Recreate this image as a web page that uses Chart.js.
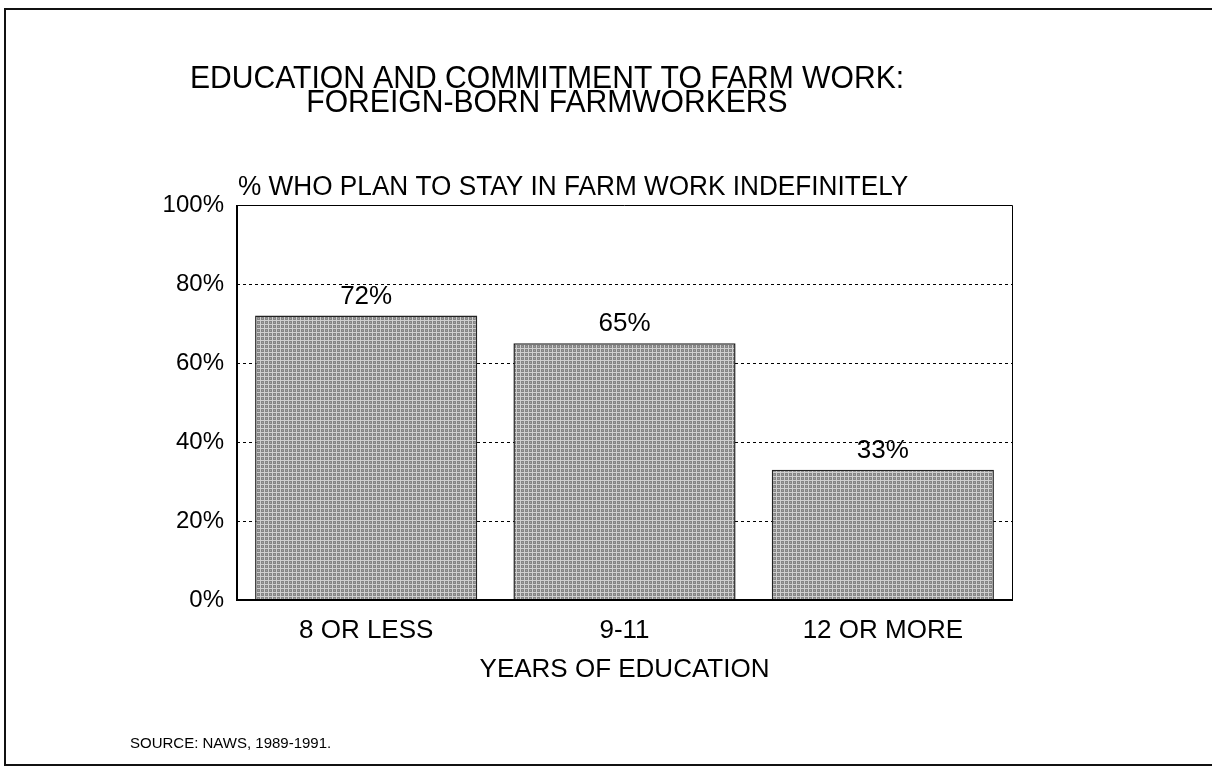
<!DOCTYPE html>
<html>
<head>
<meta charset="utf-8">
<script src="https://cdn.jsdelivr.net/npm/chart.js@4.4.1/dist/chart.umd.min.js"></script>
<style>
    html, body { margin: 0; padding: 0; background: #fff; }
    #wrap { width: 1212px; height: 775px; position: relative; }
</style>
</head>
<body>
<div id="wrap"><canvas id="eduChart"></canvas></div>
<script>
// data
const categories = ['8 OR LESS', '9-11', '12 OR MORE'];
const stayValues = [72, 65, 33];
const yTicks = [0, 20, 40, 60, 80, 100];

const titleLines = ['EDUCATION AND COMMITMENT TO FARM WORK:', 'FOREIGN-BORN FARMWORKERS'];
const subTitle = '% WHO PLAN TO STAY IN FARM WORK INDEFINITELY';
const xTitle = 'YEARS OF EDUCATION';
const sourceText = 'SOURCE: NAWS, 1989-1991.';

const FONT = '"Liberation Sans", Arial, sans-serif';

// stippled grey fill like the scanned bars
function makeStipple() {
    const c = document.createElement('canvas');
    c.width = 4;
    c.height = 4;
    const g = c.getContext('2d');
    g.fillStyle = '#858585';
    g.fillRect(0, 0, 4, 4);
    g.fillStyle = '#cfcfcf';
    g.fillRect(0, 0, 4, 1);
    g.fillRect(0, 0, 1, 4);
    g.fillStyle = '#a2a2a2';
    g.fillRect(2, 2, 1, 1);
    return g.createPattern(c, 'repeat');
}

// narrow text: the scan uses a slightly condensed face
function narrowText(ctx, text, x, y, size, squeeze) {
    ctx.save();
    ctx.font = size + 'px ' + FONT;
    ctx.translate(x, y);
    ctx.scale(squeeze, 1);
    ctx.fillText(text, 0, 0);
    ctx.restore();
}

// frame, headings and source note
const decorPlugin = {
    id: 'decor',
    beforeDraw(chart) {
        const ctx = chart.ctx;
        ctx.save();
        ctx.fillStyle = '#fff';
        ctx.fillRect(0, 0, chart.width, chart.height);

        ctx.strokeStyle = '#111';
        ctx.lineWidth = 2;
        ctx.strokeRect(5, 9, 1220, 756);

        ctx.fillStyle = '#000';
        ctx.textAlign = 'center';
        ctx.textBaseline = 'alphabetic';
        narrowText(ctx, titleLines[0], 547, 88, 32, 0.94);
        narrowText(ctx, titleLines[1], 547, 112, 32, 0.94);

        ctx.textAlign = 'left';
        narrowText(ctx, subTitle, 238, 195, 27, 0.97);

        ctx.font = '15px ' + FONT;
        ctx.fillText(sourceText, 130, 748);
        ctx.restore();
    },
    afterDatasetsDraw(chart) {
        const ctx = chart.ctx;
        const area = chart.chartArea;
        ctx.save();
        // plot box
        ctx.strokeStyle = '#000';
        ctx.lineWidth = 1;
        ctx.beginPath();
        ctx.moveTo(area.left, area.top + 0.5);
        ctx.lineTo(area.right + 0.5, area.top + 0.5);
        ctx.lineTo(area.right + 0.5, area.bottom);
        ctx.stroke();
        ctx.lineWidth = 2;
        ctx.beginPath();
        ctx.moveTo(area.left, area.top);
        ctx.lineTo(area.left, area.bottom);
        ctx.lineTo(area.right + 1, area.bottom);
        ctx.stroke();

        // value labels over the bars
        ctx.fillStyle = '#000';
        ctx.font = '26px ' + FONT;
        ctx.textAlign = 'center';
        ctx.textBaseline = 'middle';
        const meta = chart.getDatasetMeta(0);
        meta.data.forEach((bar, i) => {
            ctx.fillText(stayValues[i] + '%', bar.x, bar.y - 19);
        });
        ctx.restore();
    }
};

Chart.defaults.font.family = FONT;
Chart.defaults.color = '#000';

const ctx = document.getElementById('eduChart');
new Chart(ctx, {
    type: 'bar',
    data: {
        labels: categories,
        datasets: [{
            data: stayValues,
            backgroundColor: makeStipple(),
            borderColor: '#222',
            borderWidth: 1.5,
            barPercentage: 0.86,
            categoryPercentage: 1
        }]
    },
    options: {
        responsive: true,
        maintainAspectRatio: false,
        animation: false,
        layout: {
            padding: { top: 205, right: 200, left: 0, bottom: 0 }
        },
        plugins: {
            legend: { display: false },
            tooltip: { enabled: false }
        },
        scales: {
            x: {
                grid: { display: false, drawTicks: false },
                border: { display: false },
                ticks: {
                    font: { size: 26 },
                    padding: 15,
                    maxRotation: 0
                },
                title: {
                    display: true,
                    text: xTitle,
                    font: { size: 26 },
                    padding: { top: 0, bottom: 90 }
                },
                afterFit(scale) {
                    scale.height = 175;
                }
            },
            y: {
                min: yTicks[0],
                max: yTicks[yTicks.length - 1],
                afterBuildTicks(scale) {
                    scale.ticks = yTicks.map(v => ({ value: v }));
                },
                grid: {
                    drawTicks: false,
                    color: c => (c.tick && (c.tick.value === 0 || c.tick.value === 100)) ? 'rgba(0,0,0,0)' : '#000',
                    lineWidth: 1
                },
                border: { display: false, dash: [3, 3] },
                ticks: {
                    font: { size: 24 },
                    padding: 13,
                    callback: v => v + '%'
                },
                afterFit(scale) {
                    scale.width = 237;
                }
            }
        }
    },
    plugins: [decorPlugin]
});
</script>
</body>
</html>
